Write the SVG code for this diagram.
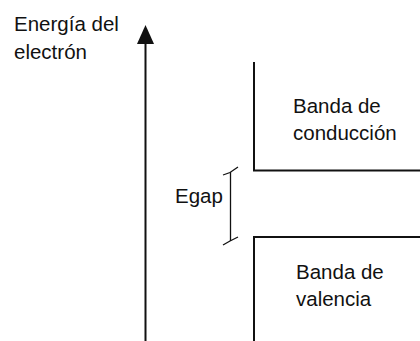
<svg xmlns="http://www.w3.org/2000/svg" width="420" height="341" viewBox="0 0 420 341">
<style>
.t{font-family:"Liberation Sans",Arial,sans-serif;font-size:20.5px;fill:#111}
.ln{stroke:#111;stroke-width:2;fill:none}
.thin{stroke:#111;stroke-width:1.3;fill:none}
</style>
<rect width="420" height="341" fill="#fff"/>
<g id="axis">
<line class="ln" x1="145.5" y1="40" x2="145.5" y2="341"/>
<polygon points="145.5,25 137,44 154,44" fill="#111"/>
<text class="t" x="14" y="31">Energía del</text>
<text class="t" x="14" y="59">electrón</text>
</g>
<g id="conduccion">
<polyline class="ln" points="254,62 254,170.5 420,170.5"/>
<text class="t" x="293" y="113">Banda de</text>
<text class="t" x="293" y="140">conducción</text>
</g>
<g id="valencia">
<polyline class="ln" points="254,341 254,237 420,237"/>
<text class="t" x="296" y="279">Banda de</text>
<text class="t" x="296" y="306">valencia</text>
</g>
<g id="egap">
<line class="thin" x1="230.5" y1="172" x2="230.5" y2="241"/>
<path class="thin" d="M223,175 L230,172.5 L238,167"/>
<path class="thin" d="M223,245 L230,241 L238,237"/>
<text class="t" x="175" y="203">Egap</text>
</g>
</svg>
